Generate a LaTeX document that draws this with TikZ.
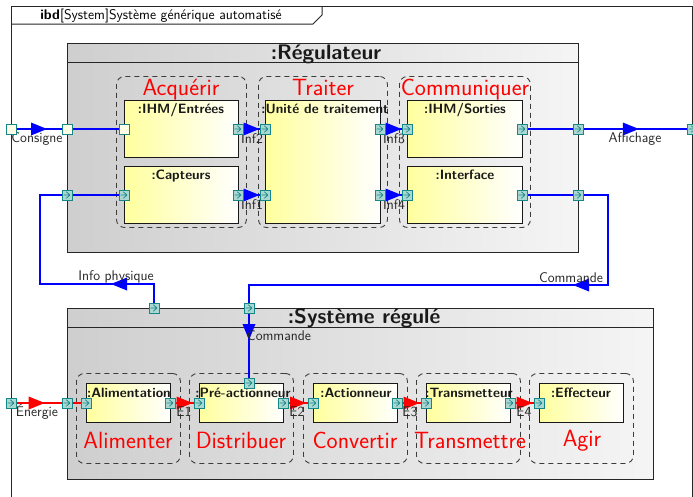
\documentclass[tikz,border=0pt]{standalone}
\usepackage{fontspec}
\renewcommand{\familydefault}{\sfdefault}
\usetikzlibrary{decorations.markings}
\definecolor{portc}{RGB}{20,135,135}
\definecolor{portf}{RGB}{170,215,210}
\definecolor{portp}{RGB}{255,255,232}
\definecolor{grpc}{RGB}{60,60,60}
\pgfdeclarelayer{front}
\pgfsetlayers{main,front}
\tikzset{
  lbl/.style={font=\sffamily\fontsize{14}{16}\selectfont, text=black!85, inner sep=0pt},
  redlbl/.style={font=\sffamily\fontsize{23.5}{27}\selectfont, text=red, inner sep=0pt, anchor=base},
  blklbl/.style={font=\sffamily\bfseries\fontsize{13.5}{15}\selectfont, text=black!90, inner sep=0pt, anchor=base},
  titlelbl/.style={font=\sffamily\bfseries\fontsize{21}{25}\selectfont, text=black!90, inner sep=0pt, anchor=base},
  cont/.style={draw=black!85, line width=1.3pt, left color=gray!38, right color=gray!8, anchor=north west, inner sep=0pt},
  blockbox/.style={draw=black!90, line width=1.3pt, left color=yellow!38, right color=white, anchor=north west, inner sep=0pt},
  grp/.style={draw=grpc, dash pattern=on 5pt off 4pt, line width=0.9pt, rounded corners=8pt, anchor=north west, inner sep=0pt},
  portbase/.style={draw=portc, line width=0.9pt, minimum size=10pt, inner sep=0pt, outer sep=0pt},
  plainport/.style={portbase, fill=portp},
  flowport/.style={portbase, fill=portf, path picture={
      \begin{scope}[shift={(path picture bounding box.center)}, rotate=#1]
        \draw[portc, line width=0.7pt, line join=round] (-3.3pt,0pt) -- (2.8pt,0pt) (-0.6pt,3.3pt) -- (2.8pt,0pt) -- (-0.6pt,-3.3pt);
      \end{scope}}},
  flowport/.default=0,
  bl/.style={line width=1.2pt, blue},
  rd/.style={line width=1.2pt, red},
  tri/.style 2 args={postaction={decorate}, decoration={markings, mark=at position #1 with {\fill[#2] (-8pt,-6.5pt) -- (8pt,0pt) -- (-8pt,6.5pt) -- cycle;}}}
}
\begin{document}
\begin{tikzpicture}[x=1pt, y=-1pt, font=\sffamily]
\useasboundingbox (0,0) rectangle (693,496);
\clip (0,0) rectangle (693,496);
\fill[white] (0,0) rectangle (693,496);
% outer frame
\draw[line width=1pt, black!85] (11,6) rectangle (692,520);
\draw[line width=1pt, black!85] (11,24) -- (313,24) -- (322,15) -- (322,6);
\node[font=\sffamily\fontsize{14}{16}\selectfont, anchor=base, inner sep=0pt] (ibd) at (161,19.5) {\textbf{ibd}[System]Système générique automatisé};

% Régulateur
\node[cont, minimum width=511pt, minimum height=209pt] (reg) at (67,43) {};
\node[cont, minimum width=511pt, minimum height=19pt] (reghead) at (67,43) {};
\node[titlelbl] (regt) at (326,59) {:Régulateur};

\node[grp, minimum width=130pt, minimum height=151pt] (gacq) at (116,76) {};
\node[grp, minimum width=129pt, minimum height=151pt] (gtra) at (258,76) {};
\node[grp, minimum width=131pt, minimum height=151pt] (gcom) at (399,76) {};
\node[redlbl] (tacq) at (181,95) {Acquérir};
\node[redlbl] (ttra) at (323,95) {Traiter};
\node[redlbl] (tcom) at (465,95) {Communiquer};

\node[blockbox, minimum width=114pt, minimum height=57pt] (ihmin) at (124,100) {};
\node[blockbox, minimum width=114pt, minimum height=57pt] (capt) at (124,166) {};
\node[blockbox, minimum width=115pt, minimum height=123pt] (unit) at (265,100) {};
\node[blockbox, minimum width=115pt, minimum height=57pt] (ihmout) at (407,100) {};
\node[blockbox, minimum width=115pt, minimum height=57pt] (intf) at (407,166) {};
\node[blklbl] (lihmin) at (181,113) {:IHM/Entrées};
\node[blklbl] (lcapt) at (181,179) {:Capteurs};
\node[blklbl] (lunit) at (325,113) {:Unité de traitement};
\node[blklbl] (lihmout) at (465,113) {:IHM/Sorties};
\node[blklbl] (lintf) at (465,179) {:Interface};

% Système régulé
\node[cont, minimum width=586pt, minimum height=171pt] (sys) at (67,308) {};
\node[cont, minimum width=586pt, minimum height=19pt] (syshead) at (67,308) {};
\node[titlelbl] (syst) at (364,323.5) {:Système régulé};

\node[grp, minimum width=104pt, minimum height=90pt] (galim) at (76,373) {};
\node[grp, minimum width=104pt, minimum height=90pt] (gdist) at (189,373) {};
\node[grp, minimum width=104pt, minimum height=90pt] (gconv) at (303,373) {};
\node[grp, minimum width=104pt, minimum height=90pt] (gtran) at (416,373) {};
\node[grp, minimum width=104pt, minimum height=90pt] (gagir) at (529,373) {};
\node[redlbl] (talim) at (128,448) {Alimenter};
\node[redlbl] (tdist) at (241,448) {Distribuer};
\node[redlbl] (tconv) at (355,448) {Convertir};
\node[redlbl] (ttran) at (470,448) {Transmettre};
\node[redlbl] (tagir) at (582,446) {Agir};

\node[blockbox, minimum width=84pt, minimum height=39pt] (alim) at (86,383) {};
\node[blockbox, minimum width=84pt, minimum height=39pt] (prea) at (199,383) {};
\node[blockbox, minimum width=84pt, minimum height=39pt] (act) at (313,383) {};
\node[blockbox, minimum width=84pt, minimum height=39pt] (trans) at (426,383) {};
\node[blockbox, minimum width=84pt, minimum height=39pt] (eff) at (539,383) {};
\node[blklbl] (lalim) at (129,397) {:Alimentation};
\node[blklbl] (lprea) at (243,397) {:Pré-actionneur};
\node[blklbl] (lact) at (356,397) {:Actionneur};
\node[blklbl] (ltrans) at (469,397) {:Transmetteur};
\node[blklbl] (leff) at (581,397) {:Effecteur};

% ports
\begin{pgfonlayer}{front}
\node[plainport] (c0) at (11,129) {};
\node[plainport] (c1) at (67,129) {};
\node[plainport] (c2) at (124,129) {};
\node[flowport] (p1) at (238,129) {};
\node[flowport] (u1) at (265,129) {};
\node[flowport] (u3) at (380,129) {};
\node[flowport] (s1) at (407,129) {};
\node[flowport] (s2) at (522,129) {};
\node[flowport] (r3) at (578,129) {};
\node[flowport] (o1) at (692,129) {};
\node[flowport] (r2) at (67,195) {};
\node[flowport] (k1) at (124,195) {};
\node[flowport] (k2) at (238,195) {};
\node[flowport] (u2) at (265,195) {};
\node[flowport] (u4) at (380,195) {};
\node[flowport] (i1) at (407,195) {};
\node[flowport] (i2) at (522,195) {};
\node[flowport] (r4) at (578,195) {};
\node[flowport=90] (ip) at (154,308) {};
\node[flowport=-90] (cp) at (249,308) {};
\node[flowport=-90] (pt) at (249,383) {};
\node[flowport] (e0) at (11,403) {};
\node[flowport] (e1) at (67,403) {};
\node[flowport] (a1) at (86,403) {};
\node[flowport] (a2) at (170,403) {};
\node[flowport] (b1) at (199,403) {};
\node[flowport] (b2) at (283,403) {};
\node[flowport] (d1) at (313,403) {};
\node[flowport] (d2) at (397,403) {};
\node[flowport] (t1) at (426,403) {};
\node[flowport] (t2) at (510,403) {};
\node[flowport] (f1) at (539,403) {};
\end{pgfonlayer}

\coordinate (cip) at (40,284);
\coordinate (ccm) at (608,285);

% blue connectors
\draw[bl, tri={0.5}{blue}] (c0) -- (c1);
\draw[bl] (c1) -- (c2);
\draw[bl, tri={0.5}{blue}] (p1) -- (u1);
\draw[bl, tri={0.5}{blue}] (k2) -- (u2);
\draw[bl, tri={0.5}{blue}] (u3) -- (s1);
\draw[bl, tri={0.5}{blue}] (u4) -- (i1);
\draw[bl] (s2) -- (r3);
\draw[bl, tri={0.46}{blue}] (r3) -- (o1);
\draw[bl] (r2) -- (k1);
\draw[bl] (i2) -- (r4);
\draw[bl, tri={54pt}{blue}] (ip) |- (cip) |- (r2);
\draw[bl, tri={142pt}{blue}] (r4) -| (ccm) -| (cp);
\draw[bl, tri={19pt}{blue}] (cp) -- (pt);

% red connectors
\draw[rd, tri={0.45}{red}] (e0) -- (e1);
\draw[rd] (e1) -- (a1);
\draw[rd, tri={0.5}{red}] (a2) -- (b1);
\draw[rd, tri={0.5}{red}] (b2) -- (d1);
\draw[rd, tri={0.5}{red}] (d2) -- (t1);
\draw[rd, tri={0.5}{red}] (t2) -- (f1);

% connector labels
\node[lbl] (lcons) at (37,139) {Consigne};
\node[lbl] (linf2) at (252,139) {Inf2};
\node[lbl] (linf1) at (252,205) {Inf1};
\node[lbl] (linf3) at (394,139) {Inf3};
\node[lbl] (linf4) at (394,205) {Inf4};
\node[lbl] (laff) at (635,139) {Affichage};
\node[lbl] (linfo) at (116,277) {Info physique};
\node[lbl] (lcom1) at (571,278) {Commande};
\node[lbl] (lcom2) at (279,336) {Commande};
\node[lbl] (lener) at (37,412) {Énergie};
\node[lbl] (le1) at (184,412) {E1};
\node[lbl] (le2) at (297,412) {E2};
\node[lbl] (le3) at (410,412) {E3};
\node[lbl] (le4) at (524,412) {E4};
\end{tikzpicture}
\end{document}
